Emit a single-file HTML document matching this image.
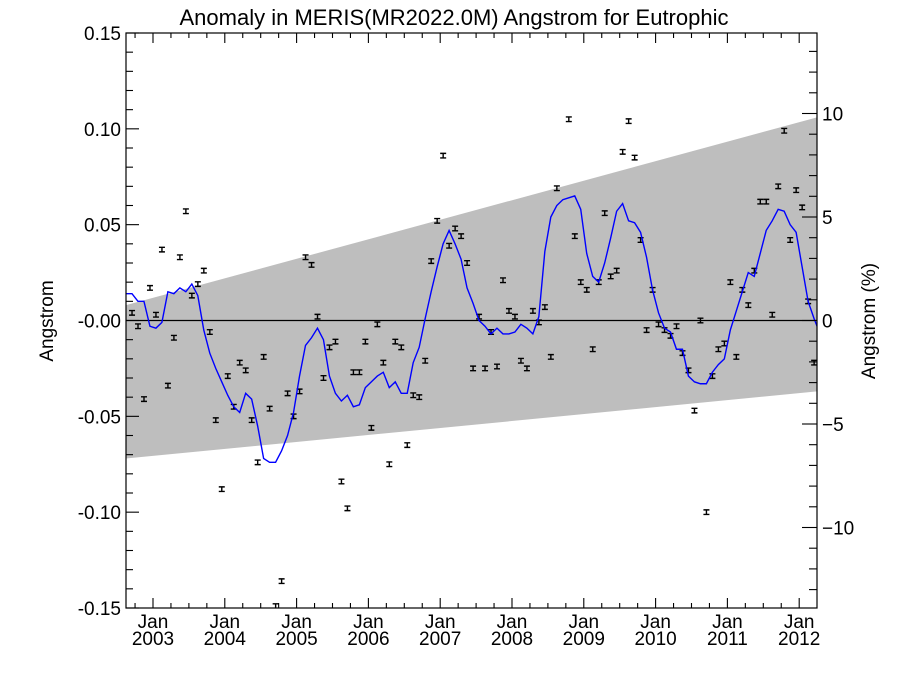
<!DOCTYPE html>
<html><head><meta charset="utf-8"><title>Anomaly in MERIS Angstrom for Eutrophic</title>
<style>
html,body{margin:0;padding:0;background:#fff;}
svg{display:block;font-family:"Liberation Sans",Arial,sans-serif;}
</style></head>
<body>
<svg id="chart" width="900" height="675" viewBox="0 0 900 675" xmlns="http://www.w3.org/2000/svg">
<text x="454" y="25" font-size="22" text-anchor="middle">Anomaly in MERIS(MR2022.0M) Angstrom for Eutrophic</text>
<text transform="translate(53,321) rotate(-90)" font-size="19" text-anchor="middle">Angstrom</text>
<text transform="translate(875,321) rotate(-90)" font-size="19" text-anchor="middle">Angstrom (%)</text>
<g id="plot"></g>
</svg>
<script>
// ---- data ----
const pointStartYear = 2002.708;   // first monthly anomaly point
const pointValues = [0.004,-0.003,-0.041,0.017,0.003,0.037,-0.034,-0.009,0.033,0.057,0.013,0.019,0.026,-0.006,-0.052,-0.088,-0.029,-0.045,-0.022,-0.026,-0.052,-0.074,-0.019,-0.046,-0.149,-0.136,-0.038,-0.050,-0.037,
0.033,0.029,0.002,-0.030,-0.014,-0.011,-0.084,-0.098,-0.027,-0.027,-0.011,-0.056,-0.002,-0.022,-0.075,-0.011,-0.014,-0.065,-0.039,-0.040,-0.021,0.031,0.052,0.086,0.039,0.048,0.044,0.030,-0.025,0.002,-0.025,-0.006,-0.024,0.021,0.005,0.002,-0.021,-0.025,0.005,-0.001,0.007,-0.019,
0.069,null,0.105,0.044,0.020,0.016,-0.015,0.020,0.056,0.023,0.026,0.088,0.104,0.085,0.042,-0.005,0.016,-0.002,-0.005,-0.008,-0.003,-0.017,-0.026,-0.047,0.000,-0.100,-0.029,-0.015,-0.012,0.020,-0.019,0.016,0.008,0.026,0.062,0.062,0.003,0.070,0.099,0.042,0.068,0.059,0.010,-0.022];
const errorHalf = 0.0012;
const smoothStartYear = 2002.624;  // first smoothed (blue) value
const smoothValues = [0.014,0.014,0.010,0.010,-0.003,-0.004,-0.001,0.015,0.014,0.017,0.015,0.019,0.013,-0.005,-0.017,-0.025,-0.032,-0.039,-0.045,-0.048,-0.038,-0.041,-0.055,-0.072,-0.074,-0.074,-0.068,-0.060,-0.048,-0.029,-0.013,-0.009,-0.004,-0.010,-0.029,-0.038,-0.042,-0.039,-0.045,-0.044,-0.035,-0.032,-0.029,-0.027,-0.035,-0.032,-0.038,-0.038,-0.022,-0.014,0.001,0.015,0.028,0.040,0.047,0.040,0.032,0.017,0.009,0.000,-0.003,-0.007,-0.004,-0.007,-0.007,-0.006,-0.002,-0.004,-0.007,0.002,0.036,0.054,0.060,0.063,0.064,0.065,0.058,0.035,0.023,0.020,0.030,0.043,0.057,0.061,0.052,0.051,0.046,0.033,0.016,0.004,-0.004,-0.006,-0.015,-0.015,-0.029,-0.032,-0.033,-0.033,-0.027,-0.023,-0.020,-0.005,0.005,0.015,0.025,0.023,0.035,0.047,0.052,0.058,0.057,0.050,0.046,0.028,0.010,0.001,-0.007];
const trendYears = [2002.624, 2012.248];
const trendUpper = [0.008, 0.106];
const trendLower = [-0.072, -0.037];
const yTickValues = [0.15,0.10,0.05,0.00,-0.05,-0.10,-0.15];
const yTickLabels = ["0.15","0.10","0.05","-0.00","-0.05","-0.10","-0.15"];
const pctTickValues = [10,5,0,-5,-10];
const pctTickLabels = ["10","5","0","\u22125","\u221210"];
const pctMean = 1.08;  // angstrom per 100%
const xYears = [2003,2004,2005,2006,2007,2008,2009,2010,2011,2012];

// ---- axes ----
const L=126, R=817, T=33, B=608;
const xMin=2002.624, xMax=2012.248, yMin=-0.15, yMax=0.15;
const X = t => L + (t - xMin) / (xMax - xMin) * (R - L);
const Y = v => B - (v - yMin) / (yMax - yMin) * (B - T);
const YP = p => Y(p / 100 * pctMean);

const NS="http://www.w3.org/2000/svg";
const g=document.getElementById('plot');
function mk(tag, attrs, parent){const e=document.createElementNS(NS,tag);for(const k in attrs)e.setAttribute(k,attrs[k]);(parent||g).appendChild(e);return e;}

// trend band
const band=mk('polygon',{points:[X(trendYears[0])+','+Y(trendUpper[0]),X(trendYears[1])+','+Y(trendUpper[1]),X(trendYears[1])+','+Y(trendLower[1]),X(trendYears[0])+','+Y(trendLower[0])].join(' '),fill:'#bebebe'});



// zero line
const zl=mk('line',{x1:L,x2:R,y1:Y(0),y2:Y(0),stroke:'#000','stroke-width':1.3});



// clip
const defs=mk('defs',{});
const cp=mk('clipPath',{id:'clip'},defs);
mk('rect',{x:L,y:T,width:R-L,height:B-T},cp);

// points
const pg=mk('g',{'clip-path':'url(#clip)',stroke:'#000','stroke-width':1.4});


pointValues.forEach((v,i)=>{
  if(v===null) return;
  const x=X(pointStartYear+i/12), y1=Y(v+errorHalf), y2=Y(v-errorHalf);
  const e=mk('path',{d:`M${x-3},${y1}H${x+3}M${x},${y1}V${y2}M${x-3},${y2}H${x+3}`,fill:'none'},pg);
  
  
});

// smoothed line
const sl=mk('polyline',{points:smoothValues.map((v,i)=>X(smoothStartYear+i/12)+','+Y(v)).join(' '),fill:'none',stroke:'#0000ff','stroke-width':1.4,'clip-path':'url(#clip)'});



// frame
const fr=mk('rect',{x:L,y:T,width:R-L,height:B-T,fill:'none',stroke:'#000','stroke-width':1.2});



// left ticks
const tk=mk('g',{stroke:'#000','stroke-width':1.1});


for(let k=-15;k<=15;k++){const v=k/100,y=Y(v),len=(k%5===0)?13:7;mk('line',{x1:L,x2:L+len,y1:y,y2:y},tk);}
for(let p=-13;p<=13;p++){const y=YP(p);if(y<T||y>B)continue;const len=(p%5===0)?15:8;mk('line',{x1:R,x2:R-len,y1:y,y2:y},tk);}
// month ticks every 3 months
for(let m=-3;m<=120;m+=3){const t=2003+m/12;if(t<xMin||t>xMax)continue;const x=X(t),len=(m%12===0)?10:5;mk('line',{x1:x,x2:x,y1:B,y2:B-len},tk);mk('line',{x1:x,x2:x,y1:T,y2:T+len},tk);}

yTickValues.forEach((v,i)=>{
  const t=mk('text',{x:L-5,y:Y(v)+7,'font-size':19,'text-anchor':'end'});
  t.textContent=yTickLabels[i];
  
  
});
pctTickValues.forEach((p,i)=>{
  const t=mk('text',{x:R+5,y:YP(p)+7,'font-size':19,'text-anchor':'start'});
  t.textContent=pctTickLabels[i];
  
  
});
xYears.forEach(yr=>{
  const x=X(yr);
  const a=mk('text',{x:x,y:628,'font-size':19,'text-anchor':'middle'});
  a.textContent='Jan';
  
  
  const b=mk('text',{x:x,y:645,'font-size':19,'text-anchor':'middle'});
  b.textContent=String(yr);
  
  
});
</script>
</body></html>
